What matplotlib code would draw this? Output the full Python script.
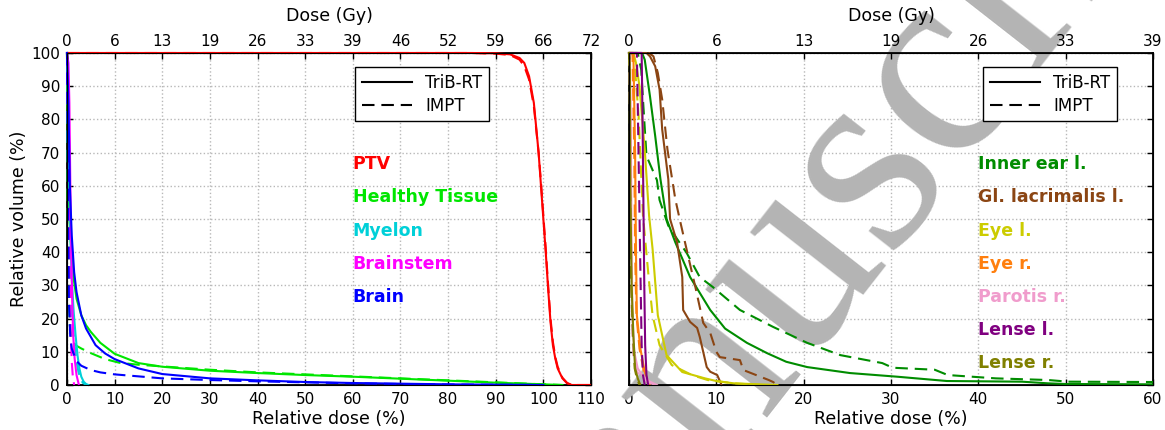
import matplotlib
matplotlib.use("Agg")
import matplotlib.pyplot as plt
from matplotlib.lines import Line2D

PRESCRIPTION_GY = 66

# ---------------- Left panel data (relative dose %, relative volume %) ----------------
ptv_dose = [0, 85, 90, 93, 95, 96, 97, 98, 99, 99.5, 100, 100.5, 101, 101.5, 102, 102.5, 103, 104, 105, 106, 110]
ptv_trib = [100, 100, 99.9, 99.6, 98.5, 97, 93, 85, 70, 60, 50, 40, 29, 19, 12, 8, 5, 2, 0.5, 0, 0]
ptv_impt = [100, 100, 99.8, 99.4, 98, 96, 92, 84, 70, 61, 51, 41, 30, 20, 13, 8.5, 5.5, 2.2, 0.6, 0, 0]

ht_dose_trib = [0, 0.2, 0.5, 1, 1.5, 2, 3, 4, 5, 7, 10, 15, 20, 30, 40, 50, 60, 70, 80, 90, 100, 104]
ht_trib = [100, 70, 50, 38, 31, 26, 21, 18, 16, 12.7, 9.4, 6.6, 5.5, 4.3, 3.6, 3.0, 2.5, 1.9, 1.3, 0.7, 0.2, 0]
ht_dose_impt = [0, 0.1, 0.3, 0.6, 1, 1.5, 2, 3, 5, 8, 11, 15, 20, 30, 40, 50, 60, 70, 80, 90, 100, 104]
ht_impt = [100, 60, 30, 18, 14, 12.5, 11.8, 11, 9.6, 7.8, 6.7, 6.1, 5.6, 4.6, 3.8, 3.2, 2.6, 2.0, 1.4, 0.8, 0.2, 0]

brain_dose_trib = [0, 0.3, 0.6, 1, 1.5, 2, 3, 4, 6, 8, 10, 15, 20, 30, 40, 50, 60, 70, 80, 90, 100]
brain_trib = [100, 85, 60, 45, 34, 28, 21, 17, 12, 9.5, 7.8, 5, 3.3, 2, 1.4, 0.9, 0.6, 0.4, 0.2, 0.1, 0]
brain_dose_impt = [0, 0.2, 0.4, 0.7, 1, 1.5, 2, 3, 5, 7, 10, 15, 20, 30, 40, 50, 60, 70, 80, 100]
brain_impt = [100, 60, 25, 14, 11, 9, 7.2, 5.8, 4.5, 3.8, 3.2, 2.6, 2.0, 1.5, 1.1, 0.8, 0.5, 0.3, 0.15, 0]

myelon_dose_trib = [0, 0.3, 0.6, 1, 1.4, 1.8, 2.2, 2.6, 3, 3.5, 4, 4.5]
myelon_trib = [100, 75, 50, 32, 22, 15, 9, 5, 2.5, 1, 0.3, 0]
myelon_dose_impt = [0, 0.2, 0.5, 0.8, 1.2, 1.6, 2, 2.4, 2.8, 3.3, 4]
myelon_impt = [100, 70, 45, 28, 18, 12, 7, 4, 2, 0.7, 0]

bstem_dose_trib = [0, 0.3, 0.5, 0.7, 0.9, 1.1, 1.3, 1.6, 2.0, 2.5]
bstem_trib = [100, 97, 85, 60, 40, 25, 15, 8, 3, 0]
bstem_dose_impt = [0, 0.2, 0.4, 0.6, 0.8, 1.0, 1.2, 1.5]
bstem_impt = [100, 80, 55, 30, 15, 7, 3, 0]

# ---------------- Right panel data ----------------
ear_dose_trib = [0, 1.5, 1.8, 2.4, 3.0, 3.6, 4.3, 5.3, 7.0, 9.3, 11, 13.5, 15.8, 18, 20.4, 25.3, 30.7, 36.4, 45, 48, 50, 60]
ear_trib = [100, 100, 98, 87, 75, 62, 50, 43, 32.5, 22.6, 17, 12.7, 9.6, 7, 5.4, 3.6, 2.5, 1.2, 1.0, 0.5, 0.3, 0.2]
ear_dose_impt = [0, 1.0, 1.4, 1.6, 2.0, 3.2, 3.5, 4.5, 5.5, 6.6, 8.1, 9.6, 12.7, 16.5, 20.4, 24.2, 29.0, 30.2, 35.0, 36.5, 42.0, 48.0, 50.3, 60]
ear_impt = [100, 100, 95, 86, 69, 61.7, 55.7, 48, 44, 39.8, 32.5, 29.5, 22.6, 17.5, 12.7, 9, 6.6, 5.2, 4.6, 3.0, 2.0, 1.5, 1.0, 0.9]

lac_dose_trib = [0, 2.0, 2.4, 3.0, 3.5, 3.8, 4.5, 4.7, 5.5, 6.1, 6.2, 7.0, 7.8, 8.1, 8.9, 9.3, 10.1, 10.6]
lac_trib = [100, 100, 99, 96, 89, 77, 62, 50, 43, 32.5, 22.6, 19, 17.2, 14.5, 5.4, 4, 3, 0]
lac_dose_impt = [0, 2.3, 2.8, 3.3, 3.8, 4.4, 5.3, 5.8, 6.8, 7.6, 8.5, 9.3, 10.0, 10.4, 12.7, 13.1, 16.0, 16.5, 17.0]
lac_impt = [100, 100, 99, 94, 86, 71, 56, 50, 38.5, 29.5, 18.7, 15.7, 10, 8.4, 7.5, 4.5, 1.5, 0.9, 0]

eyel_dose_trib = [0, 0.5, 0.8, 1.2, 1.8, 2.3, 2.7, 3.3, 4.3, 6.1, 8.7, 10, 12, 15, 17]
eyel_trib = [100, 100, 97, 90, 71, 51, 41, 21, 9, 3.9, 2, 1.2, 0.5, 0.2, 0]
eyel_dose_impt = [0, 0.4, 0.7, 1.1, 1.6, 2.3, 2.7, 3.5, 4.9, 7.2, 9, 12, 15]
eyel_impt = [100, 100, 95, 81, 51, 31, 21, 12, 6, 3, 1.5, 0.5, 0]

eyer_dose_trib = [0, 0.5, 0.7, 0.8, 0.9, 1.3, 1.8, 2.1, 2.4]
eyer_trib = [100, 100, 70, 40, 21, 11, 4, 1.5, 0]
eyer_dose_impt = [0, 0.4, 0.6, 0.7, 0.85, 1.2, 1.7, 2.0, 2.3]
eyer_impt = [100, 100, 70, 40, 21, 11, 4, 1.5, 0]

par_dose_trib = [0, 0.1, 0.2, 0.3, 0.4, 0.6, 1.0, 1.5, 2.4, 3.2]
par_trib = [100, 99, 80, 40, 20, 10, 5, 3, 1, 0]
par_dose_impt = [0, 0.05, 0.15, 0.25, 0.35, 0.5, 0.9, 1.4, 2.2, 3.0]
par_impt = [100, 98, 75, 38, 18, 9, 4, 2.5, 0.8, 0]

lensl_dose_trib = [0, 1.45, 1.55, 1.65, 1.75, 1.85, 2.0, 2.2]
lensl_trib = [100, 100, 80, 55, 30, 12, 3, 0]
lensl_dose_impt = [0, 0.9, 1.0, 1.15, 1.3, 1.45, 1.6, 1.8]
lensl_impt = [100, 100, 85, 60, 35, 12, 3, 0]

lensr_dose_trib = [0, 0.1, 0.15, 0.3, 0.5, 0.7, 1.0, 1.3]
lensr_trib = [100, 95, 60, 30, 15, 5, 2, 0]
lensr_dose_impt = [0, 0.08, 0.12, 0.25, 0.45, 0.65, 0.9, 1.2]
lensr_impt = [100, 95, 60, 30, 15, 5, 2, 0]

left_structs = [
    ("PTV", "#ff0000", ptv_dose, ptv_trib, ptv_dose, ptv_impt),
    ("Healthy Tissue", "#00e600", ht_dose_trib, ht_trib, ht_dose_impt, ht_impt),
    ("Myelon", "#00d0d8", myelon_dose_trib, myelon_trib, myelon_dose_impt, myelon_impt),
    ("Brainstem", "#ff00ff", bstem_dose_trib, bstem_trib, bstem_dose_impt, bstem_impt),
    ("Brain", "#0000ff", brain_dose_trib, brain_trib, brain_dose_impt, brain_impt),
]
right_structs = [
    ("Inner ear l.", "#008c00", ear_dose_trib, ear_trib, ear_dose_impt, ear_impt),
    ("Gl. lacrimalis l.", "#8b4513", lac_dose_trib, lac_trib, lac_dose_impt, lac_impt),
    ("Eye l.", "#cccc00", eyel_dose_trib, eyel_trib, eyel_dose_impt, eyel_impt),
    ("Eye r.", "#ff7f0e", eyer_dose_trib, eyer_trib, eyer_dose_impt, eyer_impt),
    ("Parotis r.", "#f09ccc", par_dose_trib, par_trib, par_dose_impt, par_impt),
    ("Lense l.", "#800080", lensl_dose_trib, lensl_trib, lensl_dose_impt, lensl_impt),
    ("Lense r.", "#808000", lensr_dose_trib, lensr_trib, lensr_dose_impt, lensr_impt),
]

left_xticks = list(range(0, 111, 10))
right_xticks = list(range(0, 61, 10))
yticks = list(range(0, 101, 10))

TICK_FS = 11
LABEL_FS = 12.5
DASH = (0, (6, 3.3))

fig = plt.figure(figsize=(11.65, 4.3), dpi=100)
axL = fig.add_axes([67 / 1165, 45 / 430, 524 / 1165, 332 / 430])
axR = fig.add_axes([629 / 1165, 45 / 430, 524 / 1165, 332 / 430])


def style_axis(ax, xmax, xticks, show_ylabels):
    ax.set_xlim(0, xmax)
    ax.set_ylim(0, 100)
    ax.set_xticks(xticks)
    ax.set_yticks(yticks)
    ax.tick_params(direction="in", length=4, width=1, labelsize=TICK_FS,
                   top=False, right=True, pad=5)
    if not show_ylabels:
        ax.tick_params(labelleft=False)
    ax.grid(True, color="#b8b8b8", linestyle=":", linewidth=1.0)
    for s in ax.spines.values():
        s.set_linewidth(1.3)
    ax.set_xlabel("Relative dose (%)", fontsize=LABEL_FS, labelpad=2)
    top = ax.twiny()
    top.set_xlim(0, xmax)
    top.set_xticks(xticks)
    top.set_xticklabels([str(v * PRESCRIPTION_GY // 100) for v in xticks])
    top.tick_params(direction="in", length=4, width=1, labelsize=TICK_FS, pad=3)
    top.set_xlabel("Dose (Gy)", fontsize=LABEL_FS, labelpad=9)
    return top


style_axis(axL, 110, left_xticks, True)
style_axis(axR, 60, right_xticks, False)
axL.set_ylabel("Relative volume (%)", fontsize=LABEL_FS, labelpad=2)

for ax, structs, lx in ((axL, left_structs, 60), (axR, right_structs, 40)):
    for i, (name, col, d1, v1, d2, v2) in enumerate(structs):
        ax.plot(d1, v1, color=col, lw=1.5, zorder=3, clip_on=False)
        ax.plot(d2, v2, color=col, lw=1.5, linestyle=DASH, zorder=3, clip_on=False)
        ax.text(lx, 65 - 10 * i, name, color=col, fontsize=12.5,
                fontweight="bold", va="baseline", ha="left", zorder=4)

handles = [Line2D([], [], color="black", lw=1.5),
           Line2D([], [], color="black", lw=1.5, linestyle=DASH)]
for ax, xa in ((axL, 0.55), (axR, 0.676)):
    leg = ax.legend(handles, ["TriB-RT", "IMPT"], loc="upper left",
                    bbox_to_anchor=(xa, 0.958), borderaxespad=0,
                    fontsize=12, handlelength=3.0, fancybox=False,
                    framealpha=1, edgecolor="black", labelspacing=0.3,
                    borderpad=0.4, handletextpad=0.8)
    leg.get_frame().set_linewidth(1.0)
    leg.set_zorder(5)

# Watermark of the accepted manuscript
axR.text(835 / 1165, 1 - 215 / 430, "manuscript", transform=fig.transFigure,
         rotation=52, rotation_mode="anchor", fontsize=200,
         family="Liberation Serif", color="#b4b4b4",
         ha="center", va="center", zorder=2.5, clip_on=False)

fig.savefig("out.png", dpi=100)
